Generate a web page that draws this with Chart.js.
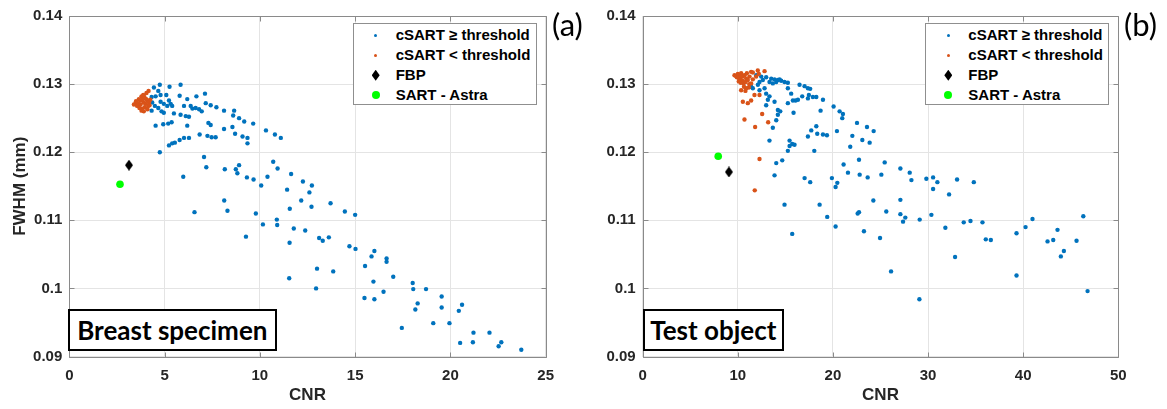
<!DOCTYPE html>
<html>
  <head>
    <title>FWHM vs CNR</title>
    <style>
      body {
        margin: 0;
        width: 1167px;
        height: 409px;
        overflow: hidden;
        position: relative;
        background: #fff;
        font-family: "Liberation Sans", Arial, sans-serif;
      }
      canvas {
        position: absolute;
        top: 0;
      }
      .legend {
        position: absolute;
        box-sizing: border-box;
        border: 1px solid #8f8f8f;
        background: #fff;
      }
      .legend .txt {
        position: absolute;
        height: 20px;
        line-height: 20px;
        font-size: 15px;
        font-weight: bold;
        color: #000;
        white-space: nowrap;
      }
      .legend .sym {
        position: absolute;
      }
      .tag {
        position: absolute;
        font-family: Lato, sans-serif;
        font-size: 31px;
        line-height: 1;
        color: #000;
      }
      .label {
        position: absolute;
        box-sizing: border-box;
        border: 2.5px solid #000;
        background: #fff;
        font-family: Lato, sans-serif;
        font-weight: bold;
        font-size: 26px;
        display: flex;
        align-items: center;
        justify-content: center;
        color: #000;
      }
    </style>
    <script src="https://cdn.jsdelivr.net/npm/chart.js"></script>
  </head>
  <body>
    <canvas id="chartA" width="580" height="409" style="left: 0px"></canvas>
    <canvas id="chartB" width="587" height="409" style="left: 580px"></canvas>

    <script>
      // legend names and axis ticks
      var seriesNames = [
        "cSART \u2265 threshold",
        "cSART < threshold",
        "FBP",
        "SART - Astra",
      ];
      var yTicks = [0.09, 0.1, 0.11, 0.12, 0.13, 0.14];
      var yTickLabels = ["0.09", "0.1", "0.11", "0.12", "0.13", "0.14"];
      var xTicksA = [0, 5, 10, 15, 20, 25];
      var xTickLabelsA = ["0", "5", "10", "15", "20", "25"];
      var xTicksB = [0, 10, 20, 30, 40, 50];
      var xTickLabelsB = ["0", "10", "20", "30", "40", "50"];

      // (a) breast specimen: [CNR, FWHM]
      var breastAbove = [
        [4.44, 0.1295], [4.75, 0.1299], [5.26, 0.1296], [5.84, 0.1299],
        [4.67, 0.129], [4.32, 0.1281], [4.53, 0.1282], [4.79, 0.1284],
        [5.09, 0.1284], [5.79, 0.1283], [6.19, 0.1278], [6.67, 0.1282],
        [7.12, 0.1286], [7.16, 0.1272], [7.42, 0.1269], [7.72, 0.1266],
        [8.12, 0.1261], [8.65, 0.1261], [8.6, 0.1254], [8.91, 0.125],
        [9.18, 0.1245], [9.65, 0.1242], [4.35, 0.1273], [4.49, 0.1268],
        [4.67, 0.1265], [4.84, 0.126], [4.96, 0.1258], [4.79, 0.1274],
        [4.96, 0.1271], [5.14, 0.1268], [5.32, 0.1271], [5.23, 0.1276],
        [5.4, 0.1268], [4.32, 0.1261], [5.49, 0.1257], [6.02, 0.1268],
        [6.37, 0.1268], [6.46, 0.1264], [6.63, 0.1265], [6.81, 0.1263],
        [6.95, 0.126], [5.84, 0.1255], [6.11, 0.1253], [6.28, 0.1252],
        [4.53, 0.1239], [4.93, 0.1241], [5.19, 0.1242], [5.37, 0.1244],
        [6.19, 0.1239], [7.3, 0.1243], [7.42, 0.124], [8.12, 0.1234],
        [8.56, 0.1237], [8.7, 0.1227], [9.09, 0.1223], [9.35, 0.1221],
        [9.35, 0.1213], [10.32, 0.1232], [10.79, 0.1226], [11.1, 0.1221],
        [6.84, 0.1226], [7.25, 0.1224], [7.47, 0.1222], [7.68, 0.1222],
        [6.28, 0.1221], [6.02, 0.1221], [5.79, 0.1218], [5.54, 0.1214],
        [5.4, 0.1213], [5.23, 0.121], [4.75, 0.12], [7.07, 0.1193],
        [7.19, 0.1178], [8.16, 0.1175], [8.74, 0.1175], [8.91, 0.1181],
        [8.82, 0.1169], [9.32, 0.1163], [9.67, 0.116], [10.4, 0.1164],
        [10.7, 0.1186], [10.93, 0.1176], [5.98, 0.1164], [10.07, 0.1151],
        [11.64, 0.1168], [12.26, 0.1157], [12.73, 0.1151], [12.6, 0.1141],
        [11.43, 0.1145], [12.17, 0.1129], [12.71, 0.112], [11.57, 0.1117],
        [13.71, 0.1125], [14.46, 0.1113], [15.0, 0.1108], [8.13, 0.1129],
        [8.3, 0.1114], [9.79, 0.111], [6.57, 0.1112], [10.16, 0.1094],
        [10.89, 0.1101], [10.91, 0.1093], [11.78, 0.1088], [12.38, 0.1085],
        [13.11, 0.1074], [13.3, 0.107], [13.62, 0.1075], [9.27, 0.1076],
        [11.56, 0.1067], [14.7, 0.1062], [15.02, 0.1058], [16.01, 0.1055],
        [15.86, 0.1047], [15.52, 0.1033], [13.0, 0.1029], [13.85, 0.1025],
        [11.54, 0.1015], [12.95, 0.1], [15.96, 0.101], [15.49, 0.0986],
        [16.01, 0.0984], [16.49, 0.0995], [16.65, 0.1039], [16.65, 0.1044],
        [17.0, 0.1017], [17.45, 0.0942], [18.02, 0.1008], [18.05, 0.0999],
        [18.72, 0.0999], [18.28, 0.0978], [18.16, 0.0969], [19.54, 0.0988],
        [19.54, 0.0972], [19.1, 0.0949], [19.95, 0.0949], [20.44, 0.0967],
        [20.61, 0.0976], [20.51, 0.092], [21.21, 0.0935], [21.18, 0.0921],
        [22.05, 0.0935], [22.67, 0.0921], [22.53, 0.0915], [23.72, 0.091],
      ];
      var breastBelow = [
        [3.79, 0.1282], [3.91, 0.1283], [3.65, 0.1278], [3.47, 0.1271],
        [3.56, 0.1268], [3.74, 0.127], [3.91, 0.1273], [4.0, 0.1271],
        [4.09, 0.1276], [3.82, 0.1264], [3.96, 0.1266], [4.14, 0.1268],
        [3.74, 0.1276], [3.61, 0.1272], [3.86, 0.1278], [4.04, 0.1278],
        [4.18, 0.1273], [4.21, 0.1269], [3.39, 0.127], [3.79, 0.1261],
        [3.91, 0.126], [4.16, 0.129], [3.88, 0.1284], [4.05, 0.1287],
        [3.5, 0.1275], [3.68, 0.1265], [4.1, 0.1263], [3.95, 0.128],
        [4.25, 0.1277],
      ];
      var breastFbp = [[3.13, 0.1181]];
      var breastSart = [[2.66, 0.1153]];

      // (b) test object: [CNR, FWHM]
      var testAbove = [
        [11.93, 0.1313], [12.46, 0.1311], [12.98, 0.131], [13.51, 0.1308],
        [13.86, 0.1307], [14.21, 0.1306], [14.56, 0.1305], [14.91, 0.1303],
        [15.26, 0.1302], [13.33, 0.1303], [13.68, 0.1301], [14.04, 0.1303],
        [14.39, 0.1307], [12.63, 0.1306], [12.28, 0.1303], [12.11, 0.1299],
        [11.58, 0.1294], [11.4, 0.1296], [12.28, 0.1291], [12.81, 0.1294],
        [12.98, 0.1286], [13.33, 0.1282], [13.16, 0.1277], [12.98, 0.1269],
        [13.86, 0.1274], [14.21, 0.1262], [14.46, 0.126], [14.21, 0.1255],
        [14.04, 0.1247], [13.68, 0.1236], [15.26, 0.1294], [15.61, 0.1286],
        [15.79, 0.1276], [16.07, 0.1276], [16.32, 0.1277], [16.49, 0.1299],
        [17.02, 0.1297], [17.37, 0.1294], [17.61, 0.1293], [17.47, 0.1284],
        [17.89, 0.1281], [18.25, 0.1281], [17.37, 0.1279], [16.77, 0.1282],
        [15.26, 0.1272], [15.86, 0.1258], [18.95, 0.1277], [18.7, 0.1261],
        [20.07, 0.1267], [20.7, 0.126], [21.05, 0.1256], [20.98, 0.125],
        [22.53, 0.1243], [23.58, 0.1237], [24.28, 0.1231], [20.42, 0.1231],
        [18.25, 0.1238], [17.72, 0.1232], [17.37, 0.1223], [18.35, 0.1227],
        [18.95, 0.1226], [19.37, 0.1225], [22.04, 0.1224], [23.09, 0.1218],
        [23.86, 0.1214], [21.82, 0.1208], [13.33, 0.1217], [15.44, 0.1217],
        [15.72, 0.1212], [15.44, 0.1209], [15.96, 0.1211], [15.26, 0.1202],
        [18.04, 0.1202], [21.12, 0.1182], [22.74, 0.1189], [25.44, 0.1185],
        [14.04, 0.1184], [14.67, 0.1188], [21.58, 0.117], [22.81, 0.1167],
        [25.09, 0.1167], [13.86, 0.1166], [27.09, 0.1176], [28.07, 0.117],
        [28.25, 0.1159], [29.82, 0.1161], [30.53, 0.1163], [30.98, 0.1156],
        [30.53, 0.1146], [33.05, 0.116], [34.81, 0.1156], [32.21, 0.1138],
        [17.02, 0.1162], [17.61, 0.1156], [19.89, 0.1162], [20.46, 0.1155],
        [20.28, 0.1149], [14.91, 0.1123], [18.6, 0.1123], [19.4, 0.1105],
        [20.28, 0.1091], [15.72, 0.108], [24.25, 0.1129], [22.74, 0.1112],
        [22.6, 0.111], [23.26, 0.1084], [25.61, 0.1113], [27.09, 0.113],
        [27.09, 0.1109], [27.61, 0.1104], [27.37, 0.1098], [29.12, 0.1101],
        [30.35, 0.1108], [31.82, 0.1089], [33.75, 0.1097], [34.46, 0.1099],
        [32.84, 0.1046], [24.95, 0.1074], [26.11, 0.1025], [29.09, 0.0984],
        [23.65, 0.1163], [35.72, 0.1097], [36.07, 0.1072], [36.6, 0.1071],
        [39.3, 0.1019], [39.3, 0.1081], [40.25, 0.109], [40.98, 0.1102],
        [42.56, 0.1069], [43.16, 0.1071], [43.61, 0.1086], [43.96, 0.1047],
        [44.28, 0.1055], [45.61, 0.107], [46.32, 0.1106], [46.77, 0.0996],
      ];
      var testBelow = [
        [9.65, 0.1313], [9.82, 0.1312], [10.0, 0.1315], [10.18, 0.1313],
        [10.35, 0.1316], [10.53, 0.1311], [10.7, 0.1313], [10.88, 0.1308],
        [10.25, 0.1308], [10.46, 0.1305], [10.6, 0.1301], [10.81, 0.1303],
        [11.05, 0.1306], [11.23, 0.1311], [11.4, 0.1318], [11.58, 0.1317],
        [10.95, 0.1316], [12.1, 0.132], [12.81, 0.1319], [12.21, 0.1315],
        [11.93, 0.1311], [11.58, 0.1307], [11.4, 0.1301], [10.35, 0.1291],
        [10.88, 0.1294], [11.16, 0.1295], [11.75, 0.1284], [12.28, 0.1284],
        [10.53, 0.1274], [11.05, 0.1272], [11.4, 0.1276], [10.7, 0.1248],
        [12.56, 0.1256], [11.82, 0.1237], [13.19, 0.1244], [12.28, 0.119],
        [11.78, 0.1144], [9.9, 0.131], [10.1, 0.1309], [10.4, 0.1312],
        [10.3, 0.1302], [10.65, 0.1296], [10.1, 0.1304], [11.2, 0.13],
        [10.8, 0.129],
      ];
      var testFbp = [[9.06, 0.1171]];
      var testSart = [[7.94, 0.1194]];

      var blue = "#0072BD";
      var orange = "#D95319";
      var green = "#00FF00";
      var fontFamily = "'Liberation Sans', Arial, sans-serif";

      function toPoints(list) {
        return list.map(function (p) {
          return { x: p[0], y: p[1] };
        });
      }

      // MATLAB style diamond marker
      function diamond(w, h) {
        var c = document.createElement("canvas");
        c.width = w;
        c.height = h;
        var g = c.getContext("2d");
        g.fillStyle = "#000";
        g.beginPath();
        g.moveTo(w / 2, 0);
        g.lineTo(w, h / 2);
        g.lineTo(w / 2, h);
        g.lineTo(0, h / 2);
        g.closePath();
        g.fill();
        return c;
      }

      // axes box and inward ticks on all four sides
      var boxPlugin = {
        id: "box",
        afterDatasetsDraw: function (chart) {
          var a = chart.chartArea;
          var ctx = chart.ctx;
          var xs = chart.scales.x;
          var ys = chart.scales.y;
          var l = Math.round(a.left) + 0.5;
          var r = Math.round(a.right) + 0.5;
          var t = Math.round(a.top) + 0.5;
          var b = Math.round(a.bottom) + 0.5;
          ctx.save();
          ctx.strokeStyle = "#8a8a8a";
          ctx.lineWidth = 1;
          ctx.beginPath();
          ctx.rect(l, t, r - l, b - t);
          xs.ticks.forEach(function (tk) {
            var px = Math.round(xs.getPixelForValue(tk.value)) + 0.5;
            ctx.moveTo(px, b);
            ctx.lineTo(px, b - 5);
            ctx.moveTo(px, t);
            ctx.lineTo(px, t + 5);
          });
          ys.ticks.forEach(function (tk) {
            var py = Math.round(ys.getPixelForValue(tk.value)) + 0.5;
            ctx.moveTo(l, py);
            ctx.lineTo(l + 5, py);
            ctx.moveTo(r, py);
            ctx.lineTo(r - 5, py);
          });
          ctx.stroke();
          ctx.restore();
        },
      };

      function makeChart(id, p) {
        var ctx = document.getElementById(id).getContext("2d");
        return new Chart(ctx, {
          type: "scatter",
          data: {
            datasets: [
              {
                label: seriesNames[3],
                data: toPoints(p.sart),
                pointStyle: "circle",
                pointRadius: 3.8,
                pointBorderWidth: 0,
                backgroundColor: green,
                order: 0,
              },
              {
                label: seriesNames[2],
                data: toPoints(p.fbp),
                pointStyle: diamond(8, 11),
                pointRadius: 5,
                backgroundColor: "#000",
                order: 1,
              },
              {
                label: seriesNames[1],
                data: toPoints(p.below),
                pointRadius: 2.2,
                pointBorderWidth: 0,
                backgroundColor: orange,
                order: 2,
              },
              {
                label: seriesNames[0],
                data: toPoints(p.above),
                pointRadius: 2.2,
                pointBorderWidth: 0,
                backgroundColor: blue,
                order: 3,
              },
            ],
          },
          options: {
            responsive: false,
            devicePixelRatio: 1,
            animation: false,
            events: [],
            layout: {
              padding: { top: 13.3, right: p.padRight, bottom: 0, left: 0 },
            },
            plugins: {
              legend: { display: false },
              tooltip: { enabled: false },
            },
            scales: {
              x: {
                type: "linear",
                min: p.xTicks[0],
                max: p.xTicks[p.xTicks.length - 1],
                afterBuildTicks: function (s) {
                  s.ticks = p.xTicks.map(function (v) {
                    return { value: v };
                  });
                },
                afterFit: function (s) {
                  s.height = 52.5;
                },
                grid: { color: "#e4e4e4", drawTicks: false },
                border: { display: false },
                ticks: {
                  color: "#262626",
                  padding: 10,
                  maxRotation: 0,
                  font: { family: fontFamily, size: 15, weight: "bold" },
                  callback: function (v, i) {
                    return p.xLabels[i];
                  },
                },
                title: {
                  display: true,
                  text: "CNR",
                  color: "#262626",
                  font: { family: fontFamily, size: 17, weight: "bold" },
                  padding: { top: 0, bottom: 3 },
                },
              },
              y: {
                type: "linear",
                min: 0.09,
                max: 0.14,
                afterBuildTicks: function (s) {
                  s.ticks = yTicks.map(function (v) {
                    return { value: v };
                  });
                },
                afterFit: function (s) {
                  s.width = p.yWidth;
                },
                grid: { color: "#e4e4e4", drawTicks: false },
                border: { display: false },
                ticks: {
                  color: "#262626",
                  padding: 7,
                  font: { family: fontFamily, size: 15, weight: "bold" },
                  callback: function (v, i) {
                    return yTickLabels[i];
                  },
                },
                title: {
                  display: p.yTitle,
                  text: "FWHM (mm)",
                  color: "#262626",
                  font: { family: fontFamily, size: 17, weight: "bold" },
                  padding: { top: 10, bottom: 0 },
                },
              },
            },
          },
          plugins: [boxPlugin],
        });
      }

      makeChart("chartA", {
        above: breastAbove,
        below: breastBelow,
        fbp: breastFbp,
        sart: breastSart,
        xTicks: xTicksA,
        xLabels: xTickLabelsA,
        padRight: 34.3,
        yWidth: 69.3,
        yTitle: true,
      });
      makeChart("chartB", {
        above: testAbove,
        below: testBelow,
        fbp: testFbp,
        sart: testSart,
        xTicks: xTicksB,
        xLabels: xTickLabelsB,
        padRight: 48.7,
        yWidth: 62.7,
        yTitle: false,
      });

      // legend boxes inside the axes (north-east)
      function addLegend(left, top) {
        var box = document.createElement("div");
        box.className = "legend";
        box.style.left = left + "px";
        box.style.top = top + "px";
        box.style.width = "184px";
        box.style.height = "82px";
        var symbols = [
          { w: 3, h: 3, color: blue, round: true },
          { w: 3, h: 3, color: orange, round: true },
          { w: 8, h: 11, color: "#000", diamond: true },
          { w: 8, h: 8, color: green, round: true },
        ];
        seriesNames.forEach(function (name, i) {
          var cy = 11.5 + i * 20;
          var s = symbols[i];
          var sym = document.createElement("div");
          sym.className = "sym";
          sym.style.width = s.w + "px";
          sym.style.height = s.h + "px";
          sym.style.left = 22 - s.w / 2 + "px";
          sym.style.top = cy - s.h / 2 + "px";
          sym.style.background = s.color;
          if (s.round) sym.style.borderRadius = "50%";
          if (s.diamond)
            sym.style.clipPath = "polygon(50% 0, 100% 50%, 50% 100%, 0 50%)";
          box.appendChild(sym);
          var txt = document.createElement("div");
          txt.className = "txt";
          txt.style.left = "42px";
          txt.style.top = cy - 10 + "px";
          txt.textContent = name;
          box.appendChild(txt);
        });
        document.body.appendChild(box);
      }
      addLegend(352.7, 22.7);
      addLegend(925.3, 22.7);

      function addText(cls, text, left, top, w, h) {
        var d = document.createElement("div");
        d.className = cls;
        d.style.left = left + "px";
        d.style.top = top + "px";
        if (w) d.style.width = w + "px";
        if (h) d.style.height = h + "px";
        d.textContent = text;
        document.body.appendChild(d);
      }
      addText("tag", "(a)", 552, 9);
      addText("tag", "(b)", 1124, 9);
      addText("label", "Breast specimen", 68, 308.7, 208.7, 42);
      addText("label", "Test object", 642.7, 308.7, 141.3, 42.6);
    </script>
  </body>
</html>
